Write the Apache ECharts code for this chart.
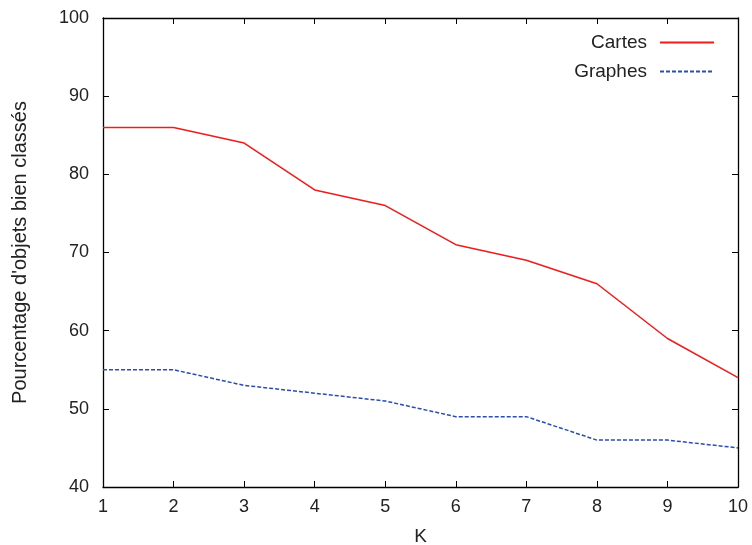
<!DOCTYPE html>
<html><head><meta charset="utf-8">
<script src="https://cdn.jsdelivr.net/npm/echarts@6/dist/echarts.min.js"></script>
<style>html,body{margin:0;padding:0;background:#fff}#c{width:752px;height:545px}</style>
</head><body><div id="c"></div>
<script>
const categories = [1,2,3,4,5,6,7,8,9,10];
const cartes = [86,86,84,78,76,71,69,66,59,54];
const graphes = [55,55,53,52,51,49,49,46,46,45];
const yTicks = [40,50,60,70,80,90,100];

const font = 'Liberation Sans, Arial, sans-serif';
const chart = echarts.init(document.getElementById('c'));
const xBase = {type:'value', min:1, max:10, interval:1,
  axisLine:{show:true, lineStyle:{color:'#000', width:1.3}},
  axisTick:{show:true, inside:true, length:6, lineStyle:{color:'#000'}},
  splitLine:{show:false}};
const yBase = {type:'value', min:40, max:100, interval:10,
  axisLine:{show:true, lineStyle:{color:'#000', width:1.3}},
  axisTick:{show:true, inside:true, length:6, lineStyle:{color:'#000'}},
  splitLine:{show:false}};
chart.setOption({
  animation:false,
  grid:{left:103, right:14, top:18, bottom:58, outerBoundsMode:'none', containLabel:false},
  legend:{orient:'vertical', right:32, top:28, align:'right', itemGap:10,
    itemWidth:54, itemHeight:16, itemStyle:{opacity:0},
    textStyle:{fontSize:19, fontFamily:font, color:'#222', padding:[0,8,0,0]},
    data:['Cartes','Graphes']},
  xAxis:[
    Object.assign({}, xBase, {position:'bottom', name:'K', nameLocation:'middle', nameGap:40,
      nameTextStyle:{fontSize:19, fontFamily:font, color:'#222'},
      axisLabel:{show:true, fontSize:18, fontFamily:font, color:'#222', margin:11}}),
    Object.assign({}, xBase, {position:'top', axisLabel:{show:false}})
  ],
  yAxis:[
    Object.assign({}, yBase, {position:'left', name:"Pourcentage d'objets bien classés",
      nameLocation:'middle', nameGap:73, nameTextStyle:{fontSize:20, fontFamily:font, color:'#222'},
      axisLabel:{show:true, fontSize:18, fontFamily:font, color:'#222', margin:14}}),
    Object.assign({}, yBase, {position:'right', axisLabel:{show:false}})
  ],
  series:[
    {name:'Cartes', type:'line', symbol:'none', data:categories.map((k,i)=>[k,cartes[i]]),
      lineStyle:{color:'#ee1c1c', width:1.5}, itemStyle:{color:'#ee1c1c'}},
    {name:'Graphes', type:'line', symbol:'none', data:categories.map((k,i)=>[k,graphes[i]]),
      lineStyle:{color:'#2b4ea8', width:1.5, type:[4,2]}, itemStyle:{color:'#2b4ea8'}}
  ]
});
</script></body></html>
